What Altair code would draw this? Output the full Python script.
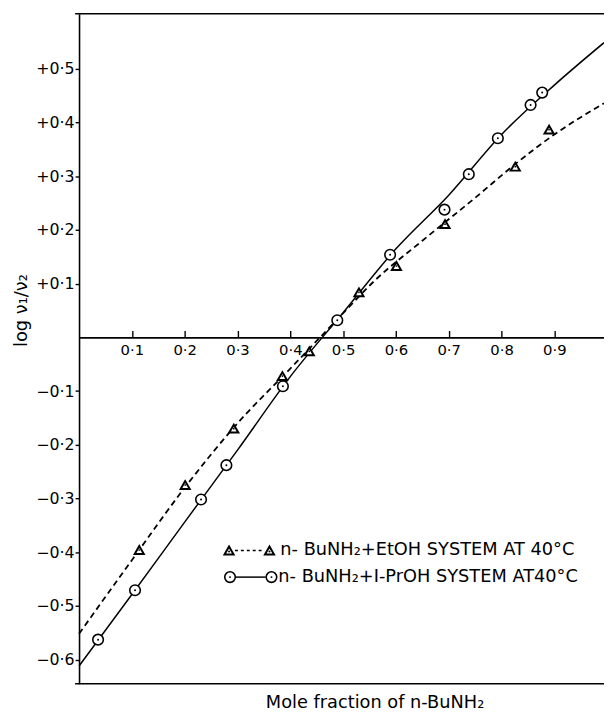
import altair as alt
import pandas as pd

# ---- data ----
# n-BuNH2 + 1-PrOH (circles, solid line)
pr_x = [0.036, 0.106, 0.231, 0.279, 0.386, 0.489, 0.589, 0.692, 0.738, 0.793, 0.855, 0.877]
pr_y = [-0.563, -0.471, -0.302, -0.238, -0.091, 0.032, 0.154, 0.238, 0.304, 0.371, 0.433, 0.456]
# n-BuNH2 + EtOH (triangles, dashed line)
et_x = [0.114, 0.201, 0.293, 0.385, 0.436, 0.530, 0.601, 0.693, 0.826, 0.890]
et_y = [-0.396, -0.275, -0.170, -0.072, -0.026, 0.084, 0.133, 0.211, 0.318, 0.387]
# drawn curves
pr_curve_x = [0.0, 0.1, 0.2, 0.3, 0.4, 0.5, 0.6, 0.7, 0.8, 0.9, 0.994]
pr_curve_y = [-0.612, -0.479, -0.344, -0.21, -0.073, 0.046, 0.165, 0.265, 0.378, 0.47, 0.549]
et_curve_x = [0.0, 0.1, 0.2, 0.3, 0.4, 0.5, 0.56, 0.65, 0.75, 0.83, 0.9, 0.994]
et_curve_y = [-0.552, -0.415, -0.28, -0.16, -0.058, 0.045, 0.106, 0.18, 0.26, 0.326, 0.378, 0.436]

x_ticks = [0.1, 0.2, 0.3, 0.4, 0.5, 0.6, 0.7, 0.8, 0.9]
y_ticks = [-0.6, -0.5, -0.4, -0.3, -0.2, -0.1, 0.1, 0.2, 0.3, 0.4, 0.5]

legend_et = "n- BuNH\u2082+EtOH SYSTEM   AT 40\u00b0C"
legend_pr = "n- BuNH\u2082+I-PrOH SYSTEM AT40\u00b0C"
x_title = "Mole fraction of n-BuNH\u2082"
y_title = "log \u03bd\u2081/\u03bd\u2082"

FONT = "DejaVu Sans"
W, H = 532, 679
X_DOMAIN = [0, 0.994]
Y_DOMAIN = [-0.645, 0.603]
zero_px = Y_DOMAIN[1] / (Y_DOMAIN[1] - Y_DOMAIN[0]) * H

xscale = alt.Scale(domain=X_DOMAIN, nice=False, zero=False)
yscale = alt.Scale(domain=Y_DOMAIN, nice=False, zero=False)

xaxis = alt.Axis(orient="top", offset=-zero_px, values=x_ticks, tickSize=7,
                 labelPadding=-19.5, labelBaseline="middle", labelOverlap=False,
                 labelExpr="replace(format(datum.value, '.1f'), '.', '\u00b7')",
                 title=None, labelFontSize=15)
yaxis = alt.Axis(values=y_ticks, tickSize=4, labelPadding=1, labelOverlap=False,
                 labelExpr="(datum.value > 0 ? '+' : '\u2212') + replace(format(abs(datum.value), '.1f'), '.', '\u00b7')",
                 title=None, labelFontSize=16)

X = alt.X("x:Q", scale=xscale, axis=xaxis)
Y = alt.Y("y:Q", scale=yscale, axis=yaxis)

pr_pts = pd.DataFrame({"x": pr_x, "y": pr_y})
et_pts = pd.DataFrame({"x": et_x, "y": et_y})
pr_cur = pd.DataFrame({"x": pr_curve_x, "y": pr_curve_y})
et_cur = pd.DataFrame({"x": et_curve_x, "y": et_curve_y})

pr_line = alt.Chart(pr_cur).mark_line(color="black", strokeWidth=1.5, interpolate="monotone").encode(x=X, y=Y)
et_line = alt.Chart(et_cur).mark_line(color="black", strokeWidth=1.8, strokeDash=[6, 4],
                                      interpolate="monotone").encode(x=X, y=Y)

pr_marks = alt.Chart(pr_pts).mark_point(shape="circle", size=115, fill="white", filled=True,
                                        stroke="black", strokeWidth=1.6, opacity=1).encode(x=X, y=Y)
pr_dots = alt.Chart(pr_pts).mark_circle(size=4, color="black", opacity=1).encode(x=X, y=Y)
et_marks = alt.Chart(et_pts).mark_point(shape="triangle-up", size=85, fill="white", filled=True,
                                        stroke="black", strokeWidth=2, opacity=1).encode(x=X, y=Y)
et_dots = alt.Chart(et_pts).mark_circle(size=3, color="black", opacity=1).encode(x=X, y=Y)

one = alt.Data(values=[{}])

def hrule(x1, x2, y, **kw):
    return alt.Chart(one).mark_rule(color="black", **kw).encode(
        x=alt.value(x1), x2=alt.value(x2), y=alt.value(y))

def txt(s, x, y, **kw):
    return alt.Chart(one).mark_text(font=FONT, color="black", **kw).encode(
        x=alt.value(x), y=alt.value(y), text=alt.value(s))

def sym(x, y, shape, size, sw):
    return alt.Chart(one).mark_point(shape=shape, size=size, fill="white", filled=True,
                                     stroke="black", strokeWidth=sw, opacity=1).encode(
        x=alt.value(x), y=alt.value(y))

def dot(x, y):
    return alt.Chart(one).mark_circle(size=4, color="black", opacity=1).encode(
        x=alt.value(x), y=alt.value(y))

frame_top = hrule(-4, W, 0, strokeWidth=1.5)
frame_bottom = hrule(-4, W, H, strokeWidth=1.5)

# legend
L1, L2 = 544, 571
leg = [
    hrule(158, 187, L1, strokeWidth=1.5, strokeDash=[3, 3]),
    sym(152, L1, "triangle-up", 85, 2), sym(193, L1, "triangle-up", 85, 2),
    dot(152, L1 + 1), dot(193, L1 + 1),
    txt(legend_et, 204, L1, align="left", baseline="middle", fontSize=18),
    hrule(159, 189, L2, strokeWidth=1.5),
    sym(153, L2, "circle", 115, 1.6), sym(195, L2, "circle", 115, 1.6),
    dot(153, L2), dot(195, L2),
    txt(legend_pr, 202, L2, align="left", baseline="middle", fontSize=18),
]

titles = [
    txt(x_title, 300, 699, align="center", baseline="middle", fontSize=18),
    txt(y_title, -58, 264, align="right", baseline="middle", fontSize=18, angle=270),
]

chart = alt.layer(
    frame_top, frame_bottom, et_line, pr_line, et_marks, et_dots, pr_marks, pr_dots,
    *leg, *titles
).properties(
    width=W, height=H,
    autosize=alt.AutoSizeParams(type="none"),
    padding={"left": 72, "top": 1, "right": 0, "bottom": 28},
    background="white",
).configure_view(strokeWidth=0).configure_axis(
    grid=False, domainColor="black", tickColor="black", labelColor="black",
    labelFont=FONT, domainWidth=1.6, tickWidth=1.4,
)

chart.save("out.html", embed_options={"renderer": "svg", "actions": False})
